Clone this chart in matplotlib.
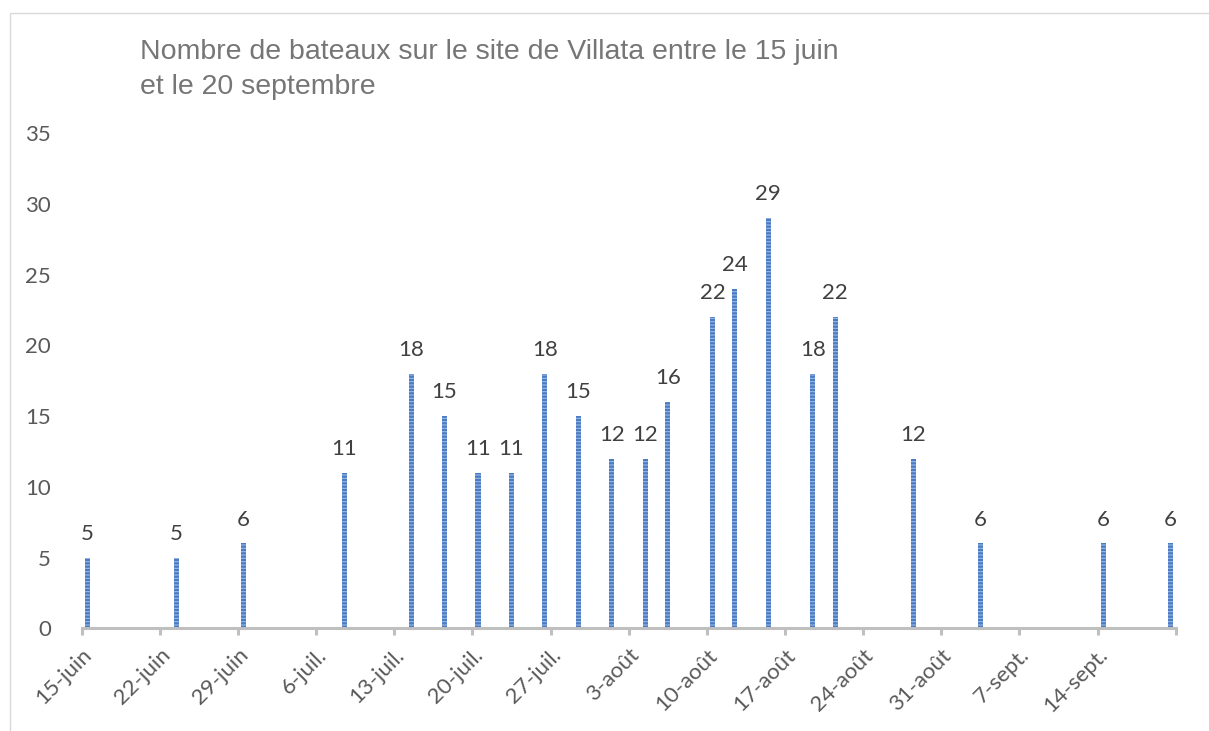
import matplotlib
matplotlib.use("Agg")
import matplotlib.pyplot as plt
import matplotlib.dates as mdates
import pandas as pd
from matplotlib.patches import Rectangle

# ---- data ----
dates = ["06-15", "06-23", "06-29", "07-08", "07-14", "07-17", "07-20", "07-23",
         "07-26", "07-29", "08-01", "08-04", "08-06", "08-10", "08-12", "08-15",
         "08-19", "08-21", "08-28", "09-03", "09-14", "09-20"]
boats = [5, 5, 6, 11, 18, 15, 11, 11, 18, 15, 12, 12, 16, 22, 24, 29, 18, 22,
         12, 6, 6, 6]
tick_labels = ["15-juin", "22-juin", "29-juin", "6-juil.", "13-juil.", "20-juil.",
               "27-juil.", "3-août", "10-août", "17-août", "24-août", "31-août",
               "7-sept.", "14-sept."]
title = "Nombre de bateaux sur le site de Villata entre le 15 juin\net le 20 septembre"
yticks = [0, 5, 10, 15, 20, 25, 30, 35]

YEAR = "2021"
start = mdates.date2num(pd.Timestamp(f"{YEAR}-06-15"))
end = mdates.date2num(pd.Timestamp(f"{YEAR}-09-21"))
xs = [mdates.date2num(pd.Timestamp(f"{YEAR}-{d}")) + 0.5 for d in dates]

W, H = 1209, 731
fig = plt.figure(figsize=(W / 100, H / 100), dpi=100)
fig.patch.set_facecolor("white")

# chart border (partially cropped)
fig.add_artist(Rectangle((10 / W, -0.1), 1.2, 1 - 13 / H + 0.1,
                         transform=fig.transFigure, fill=False,
                         edgecolor="#d9d9d9", linewidth=1.0))

ax = fig.add_axes([81.7 / W, 1 - 628.3 / H, (1175.7 - 81.7) / W, (628.3 - 133.3) / H])

plt.rcParams["hatch.linewidth"] = 0.8
bars = ax.bar(xs, boats, width=0.45, color="#4a7bc4", edgecolor="#9ab9e3",
              linewidth=0, hatch="-----", zorder=2)

LBL = 16
for x, v in zip(xs, boats):
    ax.annotate(str(v), (x, v), xytext=(0, 10), textcoords="offset points",
                ha="center", va="bottom", fontsize=LBL, color="#404040",
                family="Lato")

ax.set_xlim(start, end)
ax.set_ylim(0, 35)
major = [start + 7 * i for i in range(len(tick_labels))]
ax.set_xticks(major)
ax.set_xticklabels(tick_labels, rotation=45, ha="right", rotation_mode="anchor",
                   fontsize=LBL, color="#595959", family="Lato")
ax.set_xticks([end], minor=True)
ax.tick_params(axis="x", which="both", length=5, width=2.2, color="#bfbfbf",
               direction="out", pad=7)
ax.set_yticks(yticks)
ax.set_yticklabels([str(v) for v in yticks], fontsize=LBL, color="#595959",
                   family="Lato")
ax.tick_params(axis="y", length=0, pad=22)

for s in ["top", "right", "left"]:
    ax.spines[s].set_visible(False)
ax.spines["bottom"].set_color("#bfbfbf")
ax.spines["bottom"].set_linewidth(2.2)

fig.text(140 / W, 1 - 39 / H, title, ha="left", va="top", fontsize=20.5,
         color="#767676", family="Liberation Sans", linespacing=1.45)

fig.savefig("out.png", dpi=100)
